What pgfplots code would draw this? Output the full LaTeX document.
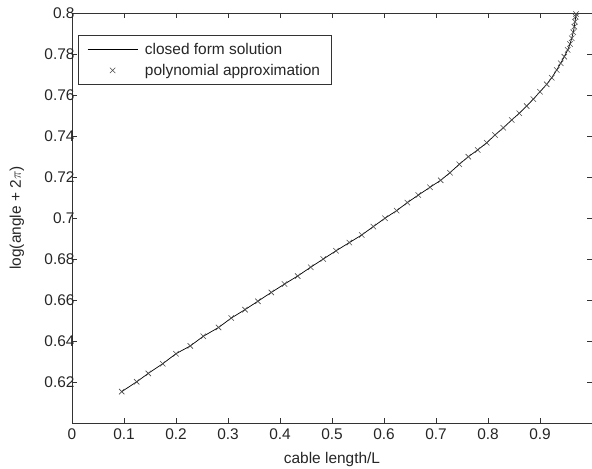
\documentclass[border=0pt]{standalone}
\usepackage{pgfplots}
\pgfplotsset{compat=1.18}
\usepackage{fontspec}
\setmainfont{Liberation Sans}
\newcommand{\fs}{\fontsize{15.5}{18}\selectfont}
\pgfplotsset{
  linelegend/.style={legend image code/.code={\draw[##1] (0bp,0bp) -- (50bp,0bp);}},
  marklegend/.style={legend image code/.code={\draw[mark repeat=2,mark phase=2,##1] plot coordinates {(0bp,0bp) (25bp,0bp) (50bp,0bp)};}},
}
\begin{document}
\begin{tikzpicture}
\begin{axis}[
  name=ax,
  scale only axis,
  width=520bp, height=410bp,
  xmin=0, xmax=1, ymin=0.6, ymax=0.8,
  xtick={0,0.1,0.2,0.3,0.4,0.5,0.6,0.7,0.8,0.9},
  xticklabels={0,0.1,0.2,0.3,0.4,0.5,0.6,0.7,0.8,0.9},
  ytick={0.62,0.64,0.66,0.68,0.7,0.72,0.74,0.76,0.78,0.8},
  yticklabels={0.62,0.64,0.66,0.68,0.7,0.72,0.74,0.76,0.78,0.8},
  tick align=inside,
  major tick length=5bp,
  every tick/.style={black!80, line width=0.6bp},
  axis line style={black!80, line width=0.8bp},
  tick label style={font=\fs, text=black!85},
  yticklabel style={xshift=6bp},
  xticklabel style={yshift=-2bp},
  /pgf/number format/assume math mode=true,
  label style={font=\fs, text=black!85},
  xlabel={cable length/L},
  ylabel={log(angle + 2$\pi$)},
  xlabel style={at={(axis description cs:0.5,-0.088)}, anchor=center},
  ylabel style={at={(axis description cs:-0.106,0.5)}, anchor=center},
  legend style={at={(axis description cs:0.0115,0.946)}, anchor=north west,
    font=\fs, draw=black!80, line width=0.6bp, inner xsep=9bp, inner ysep=6bp,
    row sep=4bp, cells={anchor=west, text=black!85},
    /tikz/every odd column/.append style={column sep=5bp}},
]
\addplot[black, line width=0.7bp, linelegend]
coordinates {
(0.0956,0.6153) (0.1244,0.6201) (0.1467,0.6242) (0.1744,0.6289) (0.2000,0.6338)
(0.2275,0.6376) (0.2525,0.6423) (0.2819,0.6466) (0.3063,0.6512) (0.3327,0.6553)
(0.3575,0.6594) (0.3833,0.6637) (0.4088,0.6678) (0.4340,0.6717) (0.4590,0.6760)
(0.4833,0.6800) (0.5077,0.6840) (0.5333,0.6880) (0.5571,0.6917) (0.5794,0.6958)
(0.6019,0.6999) (0.6244,0.7036) (0.6448,0.7075) (0.6660,0.7112) (0.6885,0.7150)
(0.7090,0.7184) (0.7269,0.7221) (0.7448,0.7262) (0.7621,0.7299) (0.7802,0.7332)
(0.7975,0.7367) (0.8135,0.7405) (0.8294,0.7440) (0.8456,0.7478) (0.8602,0.7511)
(0.8744,0.7546) (0.8871,0.7580) (0.9000,0.7616) (0.9129,0.7652) (0.9225,0.7684)
(0.9321,0.7722) (0.9398,0.7755) (0.9467,0.7787) (0.9533,0.7820) (0.9577,0.7849)
(0.9610,0.7877) (0.9640,0.7906) (0.9660,0.7933) (0.9673,0.7957) (0.9687,0.7982)
(0.9692,0.7995)
};
\addlegendentry{closed form solution}
\addplot[only marks, mark=x, mark size=3.8bp, draw=black!70, line width=0.6bp, marklegend]
coordinates {
(0.0956,0.6153) (0.1244,0.6201) (0.1467,0.6242) (0.1744,0.6289) (0.2000,0.6338)
(0.2275,0.6376) (0.2525,0.6423) (0.2819,0.6466) (0.3063,0.6512) (0.3327,0.6553)
(0.3575,0.6594) (0.3833,0.6637) (0.4088,0.6678) (0.4340,0.6717) (0.4590,0.6760)
(0.4833,0.6800) (0.5077,0.6840) (0.5333,0.6880) (0.5571,0.6917) (0.5794,0.6958)
(0.6019,0.6999) (0.6244,0.7036) (0.6448,0.7075) (0.6660,0.7112) (0.6885,0.7150)
(0.7090,0.7184) (0.7269,0.7221) (0.7448,0.7262) (0.7621,0.7299) (0.7802,0.7332)
(0.7975,0.7367) (0.8135,0.7405) (0.8294,0.7440) (0.8456,0.7478) (0.8602,0.7511)
(0.8744,0.7546) (0.8871,0.7580) (0.9000,0.7616) (0.9129,0.7652) (0.9225,0.7684)
(0.9321,0.7722) (0.9398,0.7755) (0.9467,0.7787) (0.9533,0.7820) (0.9577,0.7849)
(0.9610,0.7877) (0.9640,0.7906) (0.9660,0.7933) (0.9673,0.7957) (0.9687,0.7982)
(0.9692,0.7995)
};
\addlegendentry{polynomial approximation}
\end{axis}
\pgfresetboundingbox
\path ([xshift=-72bp,yshift=-46bp]ax.south west) rectangle ([yshift=13bp]ax.north east);
\end{tikzpicture}
\end{document}
